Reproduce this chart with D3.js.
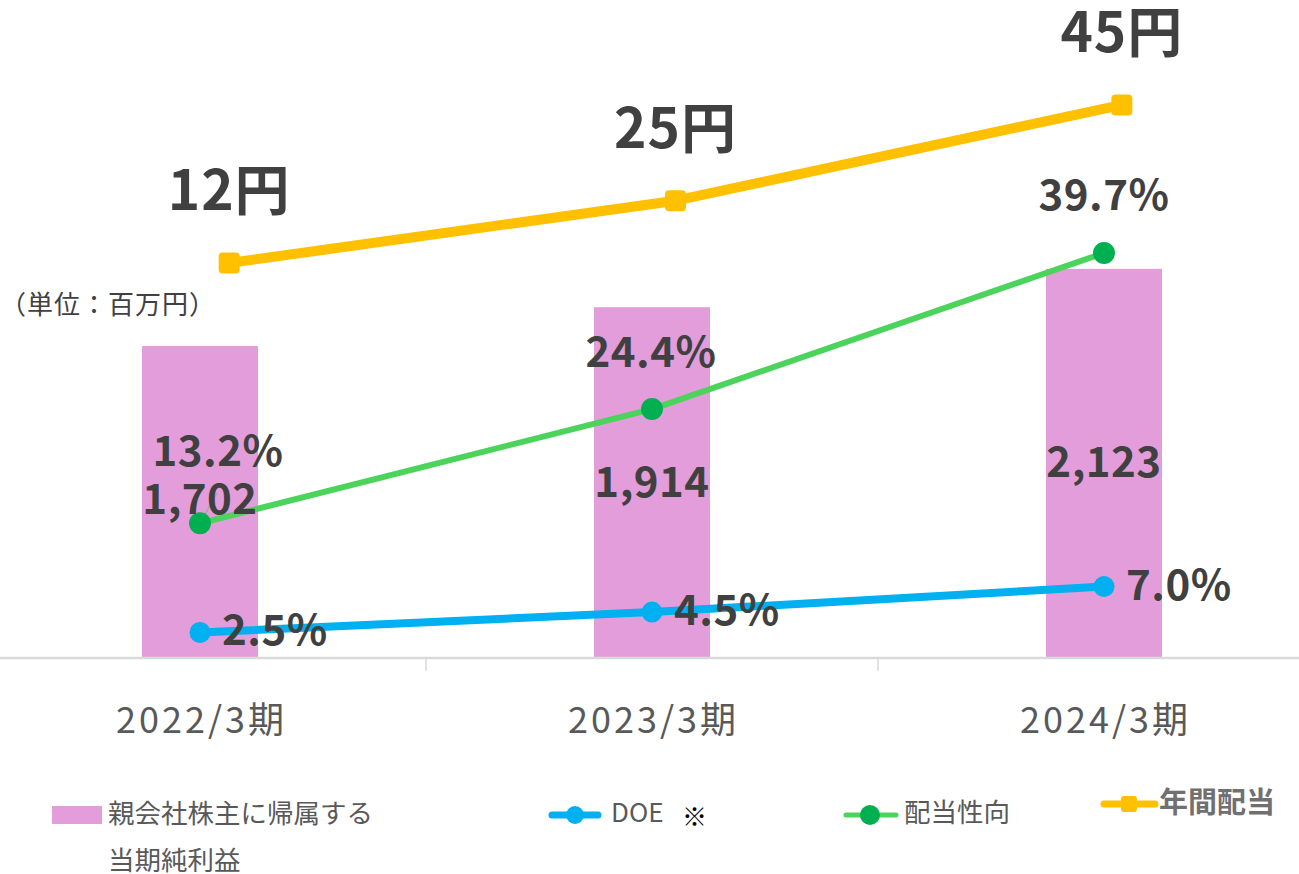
<!DOCTYPE html>
<html>
<head>
<meta charset="utf-8">
<script src="https://cdn.jsdelivr.net/npm/d3@7"></script>
<style>
  body { margin: 0; background: #fff; }
  svg { display: block; font-family: "Noto Sans CJK JP", "Noto Sans", sans-serif; }
</style>
</head>
<body>
<div id="chartContainer"></div>
<script>
// chart values
const periods = ["2022/3期", "2023/3期", "2024/3期"];
const netIncome = [1702, 1914, 2123];      // 親会社株主に帰属する当期純利益 (百万円)
const doe = [2.5, 4.5, 7.0];               // DOE (%)
const payout = [13.2, 24.4, 39.7];         // 配当性向 (%)
const dividend = [12, 25, 45];             // 年間配当 (円)

const width = 1299, height = 874;
const baseY = 658;

const svg = d3.select("#chartContainer")
  .append("svg")
  .attr("width", width)
  .attr("height", height);

// scales
const x = d3.scaleBand().domain(periods).range([-26, 1330]).padding(0);
const cx = d => x(d) + x.bandwidth() / 2;
// the dividend series sits on its own, slightly shifted overlay
const xDiv = d3.scaleBand().domain(periods).range([6, 1345]).padding(0);
const cxDiv = d => xDiv(d) + xDiv.bandwidth() / 2;
const barW = 116;

const yBar = d3.scaleLinear().domain([0, 3590]).range([baseY, 0]);
const yPct = d3.scaleLinear().domain([0, 64.5]).range([baseY, 0]);
const yDiv = d3.scaleLinear().domain([0, 66.9]).range([320.5, 0]);

// bars
svg.selectAll(".bar")
  .data(netIncome)
  .enter()
  .append("rect")
  .attr("class", "bar")
  .attr("x", (d, i) => cx(periods[i]) - barW / 2)
  .attr("y", d => yBar(d))
  .attr("width", barW)
  .attr("height", d => baseY - yBar(d))
  .attr("fill", "#e39ddb");

// x axis
const xAxis = svg.append("g")
  .attr("transform", `translate(0, ${baseY})`)
  .call(d3.axisBottom(x).tickSize(0).tickFormat(""));
xAxis.select(".domain").attr("stroke", "#d9d9d9").attr("stroke-width", 2.5)
  .attr("d", `M0,0H${width}`);
// category separators
svg.selectAll(".sep")
  .data(periods.slice(1))
  .enter()
  .append("line")
  .attr("x1", d => x(d)).attr("x2", d => x(d))
  .attr("y1", baseY + 1).attr("y2", baseY + 13)
  .attr("stroke", "#d9d9d9").attr("stroke-width", 1.5);

svg.selectAll(".xlabel")
  .data(periods)
  .enter()
  .append("text")
  .attr("x", d => cx(d) + 1.5)
  .attr("y", 733)
  .attr("text-anchor", "middle")
  .attr("font-size", 36)
  .attr("letter-spacing", 3)
  .attr("fill", "#595959")
  .text(d => d);

// leader line for 1,702 label
svg.append("line")
  .attr("x1", cx(periods[0]) + 17).attr("y1", 493)
  .attr("x2", cx(periods[0])).attr("y2", yPct(payout[0]))
  .attr("stroke", "#a6a6a6").attr("stroke-width", 1.5);

// lines
function drawLine(values, xFn, yScale, color, lw) {
  const line = d3.line()
    .x((d, i) => xFn(periods[i]))
    .y(d => yScale(d));
  svg.append("path")
    .datum(values)
    .attr("d", line)
    .attr("fill", "none")
    .attr("stroke", color)
    .attr("stroke-width", lw)
    .attr("stroke-linejoin", "round");
}

drawLine(dividend, cxDiv, yDiv, "#ffc000", 10);
drawLine(payout, cx, yPct, "#4cd35b", 6);
drawLine(doe, cx, yPct, "#00b0f0", 8);

svg.selectAll(".divMark")
  .data(dividend)
  .enter()
  .append("rect")
  .attr("x", (d, i) => cxDiv(periods[i]) - 10.5)
  .attr("y", d => yDiv(d) - 10.5)
  .attr("width", 21).attr("height", 21)
  .attr("rx", 4)
  .attr("fill", "#ffc000");

svg.selectAll(".payMark")
  .data(payout)
  .enter()
  .append("circle")
  .attr("cx", (d, i) => cx(periods[i]))
  .attr("cy", d => yPct(d))
  .attr("r", 11)
  .attr("fill", "#00b050");

svg.selectAll(".doeMark")
  .data(doe)
  .enter()
  .append("circle")
  .attr("cx", (d, i) => cx(periods[i]))
  .attr("cy", d => yPct(d))
  .attr("r", 10.5)
  .attr("fill", "#00b0f0");

// data labels
const labelColor = "#404040";
function labels(values, fmt, xFn, xOff, yFn, size, anchor, ls) {
  svg.append("g")
    .selectAll("text")
    .data(values)
    .enter()
    .append("text")
    .attr("x", (d, i) => xFn(periods[i]) + (Array.isArray(xOff) ? xOff[i] : xOff))
    .attr("y", (d, i) => yFn(d, i))
    .attr("text-anchor", anchor)
    .attr("font-size", size)
    .attr("font-weight", "bold")
    .attr("letter-spacing", ls)
    .attr("fill", labelColor)
    .text(fmt);
}

labels(dividend, d => d + "円", cxDiv, 0, d => yDiv(d) - 53, 55, "middle", 1);
labels(payout, d => d.toFixed(1) + "%", cx, [18, -1, 0], (d, i) => yPct(d) - [57, 42, 43][i], 42, "middle", 0.5);
labels(netIncome, d => d3.format(",")(d), cx, 0, (d, i) => [514, 497, 477][i], 42, "middle", 0.5);
labels(doe, d => d.toFixed(1) + "%", cx, 22, d => yPct(d) + 13, 42, "start", 0.5);

// unit
svg.append("text")
  .attr("x", 0).attr("y", 314)
  .attr("font-size", 26)
  .attr("letter-spacing", 1)
  .attr("fill", "#404040")
  .text("（単位：百万円）");

// legend
const legText = "#595959";
svg.append("rect").attr("x", 52).attr("y", 806).attr("width", 50).attr("height", 18).attr("fill", "#e39ddb");
svg.append("text").attr("x", 108).attr("y", 823).attr("font-size", 26.5).attr("fill", legText).text("親会社株主に帰属する");
svg.append("text").attr("x", 108).attr("y", 870).attr("font-size", 26.5).attr("fill", legText).text("当期純利益");

svg.append("line").attr("x1", 552).attr("x2", 598).attr("y1", 815).attr("y2", 815)
  .attr("stroke", "#00b0f0").attr("stroke-width", 7).attr("stroke-linecap", "round");
svg.append("circle").attr("cx", 575).attr("cy", 815).attr("r", 9).attr("fill", "#00b0f0");
svg.append("text").attr("x", 611).attr("y", 822).attr("font-size", 26).attr("fill", legText).text("DOE");
svg.append("text").attr("x", 682).attr("y", 826).attr("font-size", 25).attr("fill", "#000").text("※");

svg.append("line").attr("x1", 846).attr("x2", 896).attr("y1", 815).attr("y2", 815)
  .attr("stroke", "#4cd35b").attr("stroke-width", 5).attr("stroke-linecap", "round");
svg.append("circle").attr("cx", 870).attr("cy", 815).attr("r", 10).attr("fill", "#00b050");
svg.append("text").attr("x", 904).attr("y", 822).attr("font-size", 26.5).attr("fill", legText).text("配当性向");

svg.append("line").attr("x1", 1104).attr("x2", 1155).attr("y1", 804).attr("y2", 804)
  .attr("stroke", "#ffc000").attr("stroke-width", 7).attr("stroke-linecap", "round");
svg.append("rect").attr("x", 1121).attr("y", 796).attr("width", 16).attr("height", 16).attr("rx", 3).attr("fill", "#ffc000");
svg.append("text").attr("x", 1159).attr("y", 813).attr("font-size", 29).attr("font-weight", "bold").attr("fill", "#707070").text("年間配当");
</script>
</body>
</html>
